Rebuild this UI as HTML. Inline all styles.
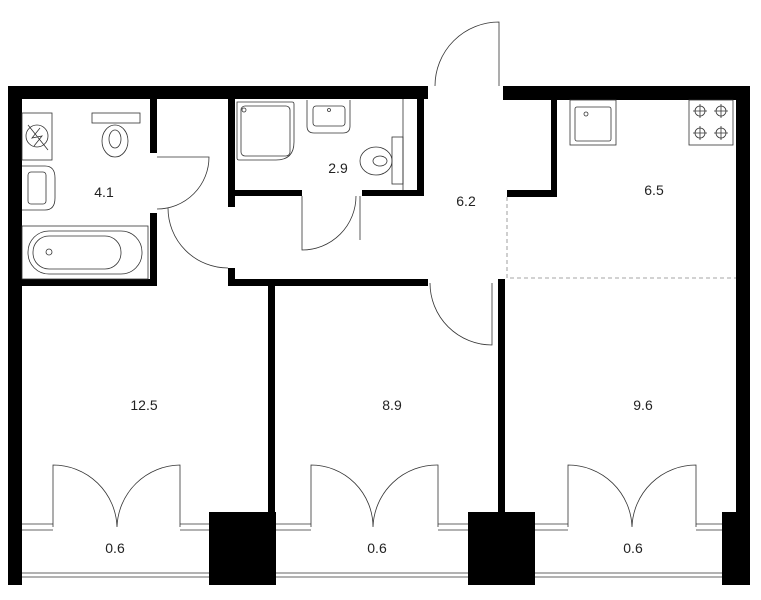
<!DOCTYPE html>
<html><head><meta charset="utf-8"><style>
html,body{margin:0;padding:0;background:#fff}
svg{display:block}
text{font-family:"Liberation Sans",sans-serif;font-size:14px;fill:#222;text-anchor:middle}
</style></head><body>
<svg width="761" height="600" viewBox="0 0 761 600" xmlns="http://www.w3.org/2000/svg">
<g fill="#000">
<!-- outer walls -->
<rect x="8" y="86" width="420" height="13"/>
<rect x="503" y="86" width="247" height="14"/>
<rect x="8" y="86" width="14" height="499"/>
<rect x="736" y="86" width="14" height="430"/>
<rect x="722" y="512" width="28" height="73"/>
<rect x="209" y="512" width="67" height="73"/>
<rect x="468" y="512" width="67" height="73"/>
<!-- bathroom 4.1 -->
<rect x="150" y="99" width="7" height="54"/>
<rect x="150" y="213" width="7" height="73"/>
<rect x="22" y="279" width="135" height="7"/>
<!-- shower room -->
<rect x="228" y="99" width="7" height="108"/>
<rect x="235" y="190" width="67" height="6"/>
<rect x="362" y="190" width="62" height="6"/>
<rect x="417" y="99" width="7" height="97"/>
<!-- corridor bottom -->
<rect x="228" y="268" width="7" height="18"/>
<rect x="228" y="279" width="200" height="7"/>
<rect x="498" y="279" width="7" height="233"/>
<rect x="268" y="286" width="7" height="226"/>
<!-- kitchen -->
<rect x="551" y="99" width="6" height="98"/>
<rect x="507" y="190" width="50" height="7"/>
</g>
<g fill="none" stroke="#333" stroke-width="0.8">
<!-- dashed -->
<path d="M507 197V278H736" stroke-dasharray="4 3" stroke="#888"/>
<!-- doors -->
<path d="M157 157H209A52 52 0 0 1 157 209"/>
<path d="M168 208A60 60 0 0 0 228 268"/>
<path d="M302 196V250A54 54 0 0 0 356 196M360 196V240"/>
<path d="M499 86V22A64 64 0 0 0 435 86"/>
<path d="M430 283A62 62 0 0 0 492 345V283"/>
<!-- bath 4.1 fixtures -->
<rect x="22" y="113" width="30" height="47"/>
<circle cx="37" cy="136" r="11"/><path d="M28 125L48 150M40 128L32 138L42 136L34 146"/>
<rect x="92" y="113" width="48" height="10"/>
<ellipse cx="115" cy="141" rx="13" ry="16"/><ellipse cx="115" cy="139" rx="6" ry="9"/>
<path d="M22 166H45Q55 166 55 178V198Q55 210 45 210H22"/><rect x="28" y="172" width="18" height="32" rx="3"/>
<rect x="22" y="226" width="126" height="53"/>
<rect x="28" y="231" width="114" height="43" rx="21"/><rect x="33" y="236" width="88" height="33" rx="16"/>
<circle cx="49" cy="252" r="3"/>
<!-- shower room fixtures -->
<path d="M237 102H292Q294 102 294 104V142Q294 160 276 160H239Q237 160 237 158Z"/>
<rect x="241" y="106" width="49" height="50" rx="4"/><circle cx="244" cy="110" r="2"/>
<path d="M307 100V126Q307 133 314 133H343Q350 133 350 126V100"/><rect x="313" y="106" width="32" height="20" rx="3"/><circle cx="329" cy="110" r="1.5"/>
<rect x="392" y="137" width="11" height="47"/>
<ellipse cx="376" cy="161" rx="16" ry="14"/><ellipse cx="380" cy="161" rx="7" ry="5"/>
<path d="M403 99V190"/>
<!-- kitchen -->
<rect x="570" y="100" width="46" height="45"/><rect x="575" y="107" width="36" height="34" rx="2"/><circle cx="586" cy="114" r="2"/>
<rect x="689" y="100" width="44" height="45"/>
<g><circle cx="700" cy="111" r="5"/><circle cx="721" cy="111" r="5"/><circle cx="700" cy="133" r="5"/><circle cx="721" cy="133" r="5"/>
<path d="M693 111H707M700 104V118M714 111H728M721 104V118M693 133H707M700 126V140M714 133H728M721 126V140"/></g>
<!-- balcony doors -->
<path d="M53 527V465A64 64 0 0 1 117 527M180 527V465A64 64 0 0 0 117 527"/>
<path d="M311 527V465A62 62 0 0 1 373 527M438 527V465A64 64 0 0 0 373 527"/>
<path d="M568 527V465A64 64 0 0 1 632 527M696 527V465A64 64 0 0 0 632 527"/>
<path d="M22 524H53M22 530H53M180 524H209M180 530H209M276 524H311M276 530H311M438 524H468M438 530H468M535 524H568M535 530H568M696 524H722M696 530H722"/>
<!-- glass -->
<path d="M22 573H209M22 577H209M276 573H468M276 577H468M535 573H722M535 577H722"/>
</g>
<text x="104" y="197">4.1</text>
<text x="338" y="173">2.9</text>
<text x="466" y="206">6.2</text>
<text x="654" y="195">6.5</text>
<text x="144" y="410">12.5</text>
<text x="392" y="410">8.9</text>
<text x="643" y="410">9.6</text>
<text x="115" y="553">0.6</text>
<text x="377" y="553">0.6</text>
<text x="633" y="553">0.6</text>
</svg>
</body></html>
